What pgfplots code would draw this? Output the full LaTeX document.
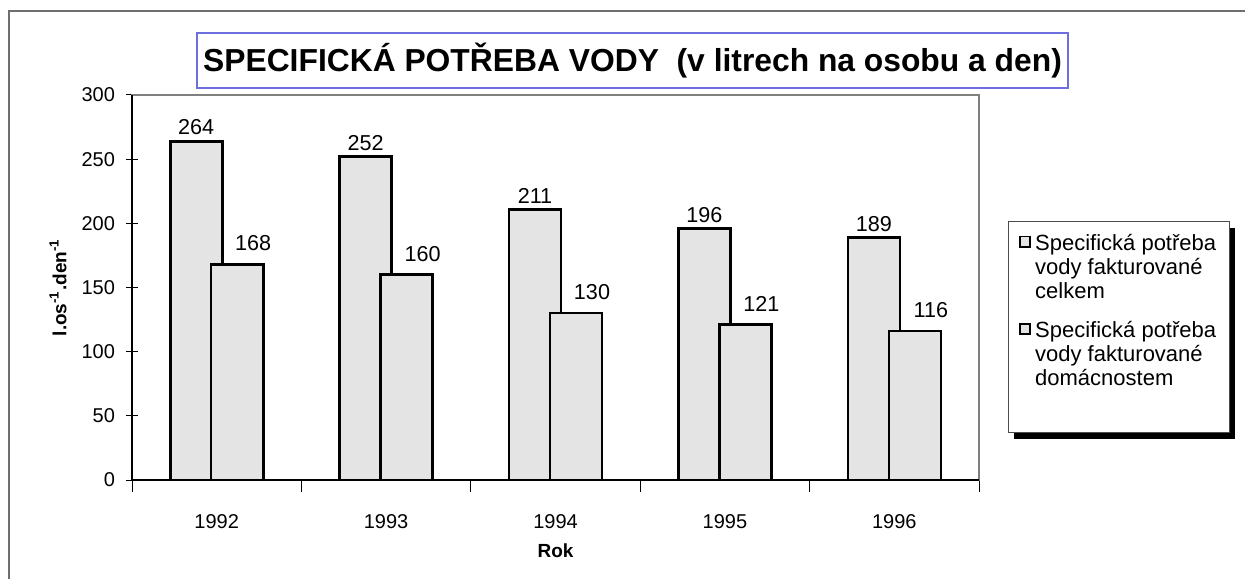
\documentclass[border=0pt]{standalone}
\usepackage{fontspec}
\setmainfont{Liberation Sans}
\usepackage{pgfplots}
\pgfplotsset{compat=1.18}
\usetikzlibrary{shadows}
\definecolor{barfill}{RGB}{228,228,228}
\definecolor{titleblue}{RGB}{110,110,225}
\definecolor{framegray}{RGB}{110,110,110}
\pgfplotsset{mylegend/.style={legend image code/.code={\path (0pt,-9.7pt); \draw[fill=barfill, line width=0.9pt] (0pt,10.3pt) rectangle (5.3pt,15.6pt);}}}
\begin{document}
\begin{tikzpicture}
\useasboundingbox (-66pt,-49pt) rectangle (556.5pt,240pt);
\draw[framegray, line width=1pt] (-61.5pt,-60pt) -- (-61.5pt,234.5pt) -- (600pt,234.5pt);
\node[draw=titleblue, line width=0.6pt, minimum width=435.5pt, minimum height=27.5pt, inner sep=0pt, font=\fontsize{15.9}{18}\selectfont\bfseries] at (250.25pt,209.75pt) {SPECIFICKÁ POTŘEBA VODY\ \ (v litrech na osobu a den)};
\fill[black] (441pt,20.5pt) rectangle (551.5pt,126pt);
\draw[fill=white, draw=black!70, line width=0.5pt] (438pt,24pt) rectangle (548.5pt,129pt);
\begin{axis}[
  at={(0pt,0pt)}, anchor=south west,
  width=423.5pt, height=192.5pt, scale only axis,
  xmin=-0.5, xmax=4.5, ymin=0, ymax=300,
  ytick={0,50,...,300},
  xtick={-0.5,0.5,1.5,2.5,3.5,4.5},
  xticklabels={},
  extra x ticks={0,1,2,3,4},
  extra x tick labels={1992,1993,1994,1995,1996},
  extra x tick style={major tick length=0pt},
  xtick pos=left, ytick pos=left,
  tick align=center, major tick length=6pt,
  tick style={black, line width=0.5pt},
  axis line style={draw=black!50, line width=1pt},
  /pgf/number format/assume math mode=true,
  tick label style={font=\fontsize{10}{12}\selectfont},
  yticklabel style={xshift=-2pt},
  xticklabel style={yshift=-13.5pt},
  xlabel={Rok}, ylabel={l.os\textsuperscript{-1}.den\textsuperscript{-1}},
  every axis x label/.style={at={(axis description cs:0.5,-0.1844)}, anchor=center, font=\fontsize{9.5}{11}\selectfont\bfseries},
  every axis y label/.style={at={(axis description cs:-0.0874,0.5)}, anchor=center, rotate=90, font=\fontsize{9.5}{11}\selectfont\bfseries},
  ybar, bar width=0.307,
  nodes near coords,
  every node near coord/.append style={font=\fontsize{10.8}{12}\selectfont, inner sep=2.4pt},
  clip=false,
  legend style={at={(1.046,0.65)}, anchor=north west, draw=none, fill=none, font=\fontsize{11}{12}\selectfont, cells={align=left, anchor=west}, row sep=6pt, inner sep=0pt},
]
\addplot[fill=barfill, draw=black, line width=1.3pt, bar shift=-0.121, mylegend] coordinates {(0,264) (1,252) (2,211) (3,196) (4,189)};
\addlegendentry{Specifická potřeba\\vody fakturované\\celkem}
\addplot[fill=barfill, draw=black, line width=1.3pt, bar shift=0.121, mylegend, every node near coord/.append style={xshift=8pt, yshift=3.6pt}] coordinates {(0,168) (1,160) (2,130) (3,121) (4,116)};
\addlegendentry{Specifická potřeba\\vody fakturované\\domácnostem}
\draw[black, line width=1pt] (rel axis cs:0,1) -- (rel axis cs:0,0) -- (rel axis cs:1,0);
\end{axis}
\end{tikzpicture}
\end{document}
